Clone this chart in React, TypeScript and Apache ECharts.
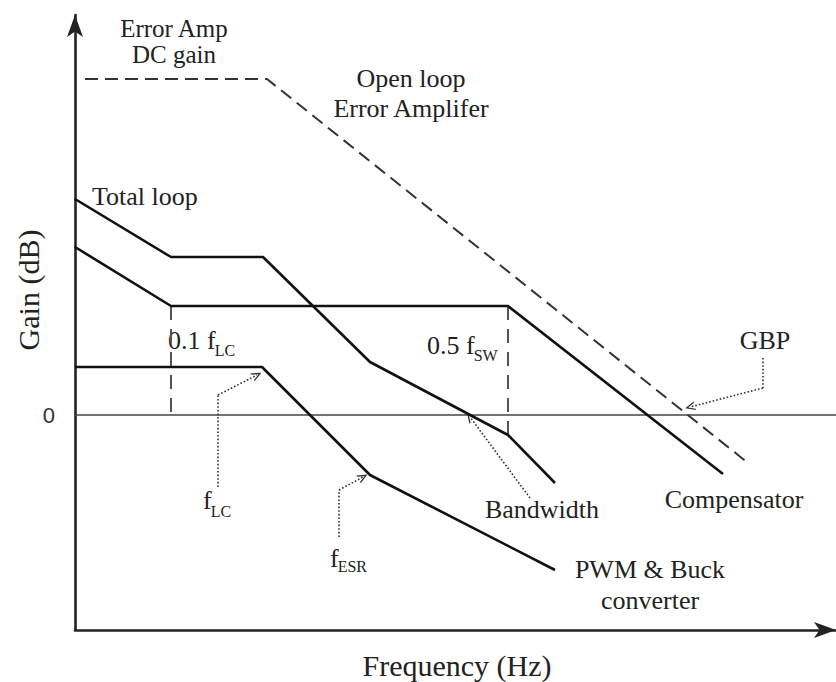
import React, { useEffect, useRef } from "react";
import * as echarts from "echarts";

// x: log-frequency position (arbitrary units), y: gain (arbitrary dB units)
const errorAmpOpenLoop: [number, number][] = [
  [1.0, 67.2],
  [19.2, 67.2],
  [67.3, -9.6],
];
const totalLoop: [number, number][] = [
  [0, 43.2],
  [9.6, 31.6],
  [18.8, 31.6],
  [29.5, 10.6],
  [43.3, -4.0],
  [48.0, -13.6],
];
const compensator: [number, number][] = [
  [0, 33.6],
  [9.6, 21.8],
  [43.3, 21.8],
  [64.8, -11.8],
];
const pwmBuck: [number, number][] = [
  [0, 9.6],
  [18.7, 9.6],
  [29.5, -12.0],
  [48.0, -31.0],
];
const marker01fLC: [number, number][] = [
  [9.6, 21.8],
  [9.6, 0],
];
const marker05fSW: [number, number][] = [
  [43.3, 21.8],
  [43.3, -4.0],
];
const zeroLine: [number, number][] = [
  [0, 0],
  [76.1, 0],
];
// dotted pointer arrows (last point = arrow tip)
const arrowFLC: [number, number][] = [
  [14.3, -14.4],
  [14.3, 4.0],
  [18.2, 8.0],
];
const arrowFESR: [number, number][] = [
  [26.4, -24.4],
  [26.4, -15.0],
  [28.8, -12.4],
];
const arrowBandwidth: [number, number][] = [
  [45.5, -16.6],
  [39.5, -0.4],
];
const arrowGBP: [number, number][] = [
  [68.8, 11.4],
  [68.8, 5.4],
  [61.5, 1.6],
];
const yTickValues = [0];
const xRange = [0, 76.1];
const yRange = [-43, 80];

const SERIF = "Liberation Serif";
const TXT = "#222";
const ARROW_PATH = "path://M5,0 L10,10 L8.4,10 L5,3.2 L1.6,10 L0,10 Z";

let measureCtx: CanvasRenderingContext2D | null = null;
function measure(t: string, size: number) {
  if (!measureCtx) measureCtx = document.createElement("canvas").getContext("2d");
  if (!measureCtx) return t.length * size * 0.5;
  measureCtx.font = `${size}px "${SERIF}"`;
  return measureCtx.measureText(t).width;
}

function arrowMarkLine(points: [number, number][]) {
  const segs: any[] = [];
  for (let i = 0; i < points.length - 1; i++) {
    const last = i === points.length - 2;
    segs.push([
      { coord: points[i], symbol: "none" },
      {
        coord: points[i + 1],
        symbol: last ? ARROW_PATH : "none",
        symbolSize: last ? [9, 10] : 0,
      },
    ]);
  }
  return segs;
}

function text(
  t: string,
  x: number,
  y: number,
  size: number,
  align: string = "center",
  extra: any = {},
  lineHeight?: number
) {
  return {
    type: "text",
    x,
    y,
    silent: true,
    ...extra,
    style: {
      text: t,
      fill: TXT,
      fontSize: size,
      fontFamily: SERIF,
      align,
      verticalAlign: "middle",
      lineHeight: lineHeight ?? size,
    },
  };
}

// main text + subscript, left-aligned at x; y is the middle of the main text
function subText(main: string, sub: string, x: number, y: number, size: number, subSize: number, drop: number) {
  const w = measure(main, size);
  return [text(main, x, y, size, "left"), text(sub, x + w - 1, y + drop, subSize, "left")];
}

export default function App() {
  const ref = useRef<HTMLDivElement>(null);
  useEffect(() => {
    if (!ref.current) return;
    const chart = echarts.init(ref.current, null, { renderer: "svg" });
    const solid = (name: string, data: [number, number][]) => ({
      name,
      type: "line",
      data,
      symbol: "none",
      silent: true,
      lineStyle: { color: "#111", width: 2.6 },
      z: 5,
    });
    const arrowSeries = (name: string, pts: [number, number][]) => ({
      name,
      type: "line",
      data: [],
      symbol: "none",
      silent: true,
      markLine: {
        silent: true,
        symbol: ["none", "none"],
        label: { show: false },
        emphasis: { disabled: true },
        lineStyle: { color: "#333", width: 1.6, type: [1.6, 2.0] },
        data: arrowMarkLine(pts),
      },
    });
    chart.setOption({
      animation: false,
      backgroundColor: "#fff",
      grid: { left: 75, right: 0, top: 15, bottom: 52, containLabel: false },
      xAxis: {
        type: "value",
        min: xRange[0],
        max: xRange[1],
        axisLine: {
          onZero: false,
          symbol: ["none", "arrow"],
          symbolSize: [12, 22],
          lineStyle: { color: "#222", width: 2.6 },
        },
        axisTick: { show: false },
        axisLabel: { show: false },
        splitLine: { show: false },
      },
      yAxis: {
        type: "value",
        min: yRange[0],
        max: yRange[1],
        axisLine: {
          show: true,
          onZero: false,
          symbol: ["none", "arrow"],
          symbolSize: [12, 22],
          lineStyle: { color: "#222", width: 2.6 },
        },
        axisTick: { show: false },
        axisLabel: {
          customValues: yTickValues,
          formatter: (v: number) => (v === 0 ? "0" : ""),
          fontSize: 22,
          color: "#333",
          margin: 20,
          fontFamily: "Liberation Sans",
        },
        splitLine: { show: false },
      },
      series: [
        {
          name: "zero",
          type: "line",
          data: zeroLine,
          symbol: "none",
          silent: true,
          clip: false,
          lineStyle: { color: "#444", width: 1.6 },
          z: 1,
        },
        {
          name: "Open loop Error Amplifer",
          type: "line",
          data: errorAmpOpenLoop,
          symbol: "none",
          silent: true,
          lineStyle: { color: "#333", width: 2, type: [13, 7] },
          z: 4,
        },
        {
          name: "0.1 fLC",
          type: "line",
          data: marker01fLC,
          symbol: "none",
          silent: true,
          lineStyle: { color: "#555", width: 2, type: [14, 9] },
          z: 3,
        },
        {
          name: "0.5 fSW",
          type: "line",
          data: marker05fSW,
          symbol: "none",
          silent: true,
          lineStyle: { color: "#555", width: 2, type: [14, 9] },
          z: 3,
        },
        solid("Total loop", totalLoop),
        solid("Compensator", compensator),
        solid("PWM & Buck converter", pwmBuck),
        arrowSeries("arrow fLC", arrowFLC),
        arrowSeries("arrow fESR", arrowFESR),
        arrowSeries("arrow Bandwidth", arrowBandwidth),
        arrowSeries("arrow GBP", arrowGBP),
      ],
      graphic: [
        text("Error Amp\nDC gain", 174, 41, 25, "center", {}, 26),
        text("Open loop\nError Amplifer", 411, 93, 26, "center", {}, 30),
        text("Total loop", 92, 196, 26, "left"),
        ...subText("0.1 f", "LC", 168, 340, 26, 16, 10),
        ...subText("0.5 f", "SW", 427, 345, 26, 16, 10),
        ...subText("f", "LC", 203, 500, 26, 16, 11),
        ...subText("f", "ESR", 330, 558, 26, 16, 8),
        text("GBP", 765, 340, 26),
        text("Bandwidth", 542, 509, 26),
        text("Compensator", 734, 499, 26),
        text("PWM & Buck\nconverter", 650, 584.5, 26, "center", {}, 31),
        text("Frequency (Hz)", 457, 665, 30),
        text("Gain (dB)", 28, 290, 30, "center", { rotation: Math.PI / 2 }),
      ],
    });
    return () => chart.dispose();
  }, []);
  return (
    <div
      ref={ref}
      style={{
        position: "absolute",
        left: 0,
        top: 0,
        width: 836,
        height: 682,
        background: "#fff",
      }}
    />
  );
}
